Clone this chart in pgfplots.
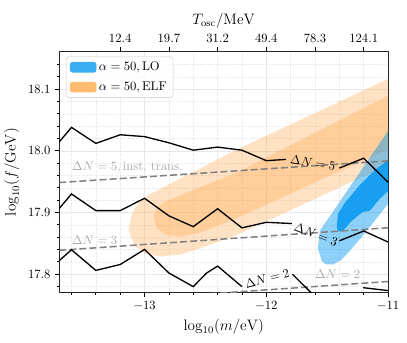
\documentclass[border=0pt]{standalone}
\usepackage{pgfplots}
\pgfplotsset{compat=1.18}
\definecolor{cblue}{RGB}{3,150,240}
\definecolor{corange}{RGB}{255,160,60}
\definecolor{legblue}{RGB}{10,155,240}
\definecolor{legorange}{RGB}{255,170,75}
\definecolor{lblgray}{RGB}{170,170,170}

\begin{document}
\begin{tikzpicture}
% main axis
\begin{axis}[
  at={(0,0)}, anchor=south west,
  scale only axis, width=260.6pt, height=190.6pt,
  xmin=-13.7, xmax=-11, ymin=17.7705, ymax=18.1605,
  xtick={-13,-12,-11},
  minor xtick={-13.6,-13.4,-13.2,-12.8,-12.6,-12.4,-12.2,-11.8,-11.6,-11.4,-11.2},
  ytick={17.8,17.9,18.0,18.1}, yticklabels={17.8,17.9,18.0,18.1},
  minor ytick={17.78,17.82,17.84,17.86,17.88,17.92,17.94,17.96,17.98,18.02,18.04,18.06,18.08,18.12,18.14},
  xtick pos=bottom, ytick pos=left, tick align=outside,
  major tick length=3.5pt, minor tick length=2pt,
  tick style={black, line width=0.6pt},
  grid=both,
  major grid style={black!9, line width=0.4pt},
  minor grid style={black!8, line width=0.4pt, dash pattern=on 1.5pt off 0.6pt},
  axis line style={line width=0.8pt, black!85},
  xlabel={$\log_{10}(m/\mathrm{eV})$}, ylabel={$\log_{10}(f/\mathrm{GeV})$},
  label style={font=\large},
  legend style={at={(0.02,0.98)}, anchor=north west, draw=black!20, rounded corners=2pt,
    fill=white, fill opacity=0.8, text opacity=1, font=\normalsize, row sep=3.5pt},
  legend cell align=left,
  legend image code/.code={\fill[#1] (0pt,-4.2pt) rectangle (21pt,4.2pt);},
]
\addlegendimage{fill=legblue, draw=none}
\addlegendentry{$\alpha = 50, \mathrm{LO}$}
\addlegendimage{fill=legorange, draw=none}
\addlegendentry{$\alpha = 50, \mathrm{ELF}$}

% ELF band, outer
\addplot[forget plot, fill=corange, fill opacity=0.3, draw=none] coordinates {
(-13.131,17.8704) (-13.106,17.8977) (-13.033,17.9203) (-12.951,17.9300)
(-12.255,18.0008) (-11.0,18.1167) (-10.9,18.126) (-10.9,17.9858)
(-11.0,17.9767) (-12.255,17.8623) (-12.501,17.8446) (-12.705,17.8317)
(-12.869,17.8285) (-12.992,17.8333) (-13.082,17.8462)} -- cycle;
% ELF band, inner
\addplot[forget plot, fill=corange, fill opacity=0.3, draw=none] coordinates {
(-12.926,17.8929) (-12.894,17.9090) (-12.820,17.9187) (-12.255,17.9638)
(-11.0,18.0894) (-10.9,18.0994) (-10.9,18.0114) (-11.0,18.0024)
(-12.255,17.8897) (-12.542,17.8671) (-12.705,17.8607) (-12.828,17.8639)
(-12.902,17.8752)} -- cycle;
% LO band, outer
\addplot[forget plot, fill=cblue, fill opacity=0.45, draw=none] coordinates {
(-11.543,17.8205) (-11.576,17.8414) (-11.560,17.8704) (-11.0,18.0322)
(-10.9,18.061) (-10.9,17.943) (-11.0,17.9138) (-11.208,17.8623)
(-11.298,17.8414) (-11.380,17.8237) (-11.453,17.8156) (-11.51,17.8156)} -- cycle;
% LO band, inner
\addplot[forget plot, fill=cblue, fill opacity=0.85, draw=none] coordinates {
(-11.421,17.8752) (-11.412,17.8977) (-11.355,17.9155) (-11.232,17.9445)
(-11.110,17.9686) (-11.0,17.9847) (-10.9,18.0) (-10.9,17.95)
(-11.0,17.9348) (-11.069,17.9219) (-11.151,17.9026) (-11.208,17.9010)
(-11.298,17.8865) (-11.372,17.8704) (-11.404,17.8688)} -- cycle;

% dashed reference lines
\addplot[forget plot, gray, line width=1.2pt, dash pattern=on 5.5pt off 2.5pt]
  coordinates {(-13.7,17.9485) (-11.0,17.9837)};
\addplot[forget plot, gray, line width=1.2pt, dash pattern=on 5.5pt off 2.5pt]
  coordinates {(-13.7,17.8386) (-11.0,17.8752)};
\addplot[forget plot, gray, line width=1.2pt, dash pattern=on 5.5pt off 2.5pt]
  coordinates {(-13.7,17.7513) (-11.0,17.788)};

% Delta N contours
\addplot[forget plot, black, line width=1.05pt] coordinates {
(-13.7,18.0145) (-13.6,18.038) (-13.4,18.012) (-13.2,18.026) (-13.0,18.023)
(-12.8,18.013) (-12.6,18.001) (-12.4,18.006) (-12.2,18.001) (-12.0,17.984) (-11.84,17.986)};
\addplot[forget plot, black, line width=1.05pt] coordinates {
(-11.4,17.972) (-11.2,17.988) (-11.0,17.949)};
\addplot[forget plot, black, line width=1.05pt] coordinates {
(-13.7,17.9066) (-13.6,17.930) (-13.4,17.903) (-13.2,17.903) (-13.0,17.923)
(-12.8,17.8945) (-12.6,17.877) (-12.4,17.906) (-12.2,17.875) (-12.0,17.884) (-11.79,17.882)};
\addplot[forget plot, black, line width=1.05pt] coordinates {
(-11.4,17.854) (-11.2,17.870) (-11.0,17.852)};
\addplot[forget plot, black, line width=1.05pt] coordinates {
(-13.7,17.822) (-13.6,17.8395) (-13.4,17.806) (-13.2,17.8156) (-13.0,17.840)
(-12.8,17.8018) (-12.6,17.7797) (-12.49,17.8018) (-12.4,17.813) (-12.2,17.7797)};
\addplot[forget plot, black, line width=1.05pt] coordinates {
(-11.785,17.7998) (-11.642,17.7717) (-11.6,17.765)};
\addplot[forget plot, black, line width=1.05pt] coordinates {
(-11.205,17.778) (-11.0,17.7733)};

% contour labels
\node[rotate=-9, inner sep=0pt] at (axis cs:-11.617,17.98) {$\Delta N = 5$};
\node[rotate=-20, inner sep=0pt] at (axis cs:-11.592,17.864) {$\Delta N = 3$};
\node[rotate=14, inner sep=0pt] at (axis cs:-11.993,17.793) {$\Delta N = 2$};
\node[lblgray, anchor=west, inner sep=0pt] at (axis cs:-13.597,17.973) {$\Delta N = 5, \mathrm{inst.\ trans.}$};
\node[lblgray, anchor=west, inner sep=0pt] at (axis cs:-13.597,17.8548) {$\Delta N = 3$};
\node[lblgray, anchor=west, inner sep=0pt] at (axis cs:-11.601,17.7995) {$\Delta N = 2$};
\end{axis}

% top axis with oscillation temperature
\begin{axis}[
  at={(0,0)}, anchor=south west,
  scale only axis, width=260.6pt, height=190.6pt,
  xmin=-13.7, xmax=-11, ymin=0, ymax=1,
  axis x line*=top, axis y line=none,
  xtick={-13.2,-12.8,-12.4,-12.0,-11.6,-11.2},
  xticklabels={12.4,19.7,31.2,49.4,78.3,124.1},
  tick align=outside, major tick length=3.5pt,
  tick style={black, line width=0.6pt},
  axis line style={line width=0.8pt, black!85},
  xlabel={$T_{\mathrm{osc}}/\mathrm{MeV}$}, xlabel style={font=\large, yshift=-2pt},
]
\end{axis}
\path (-45pt,-40pt) rectangle (275.6pt,231.7pt);
\end{tikzpicture}
\end{document}
